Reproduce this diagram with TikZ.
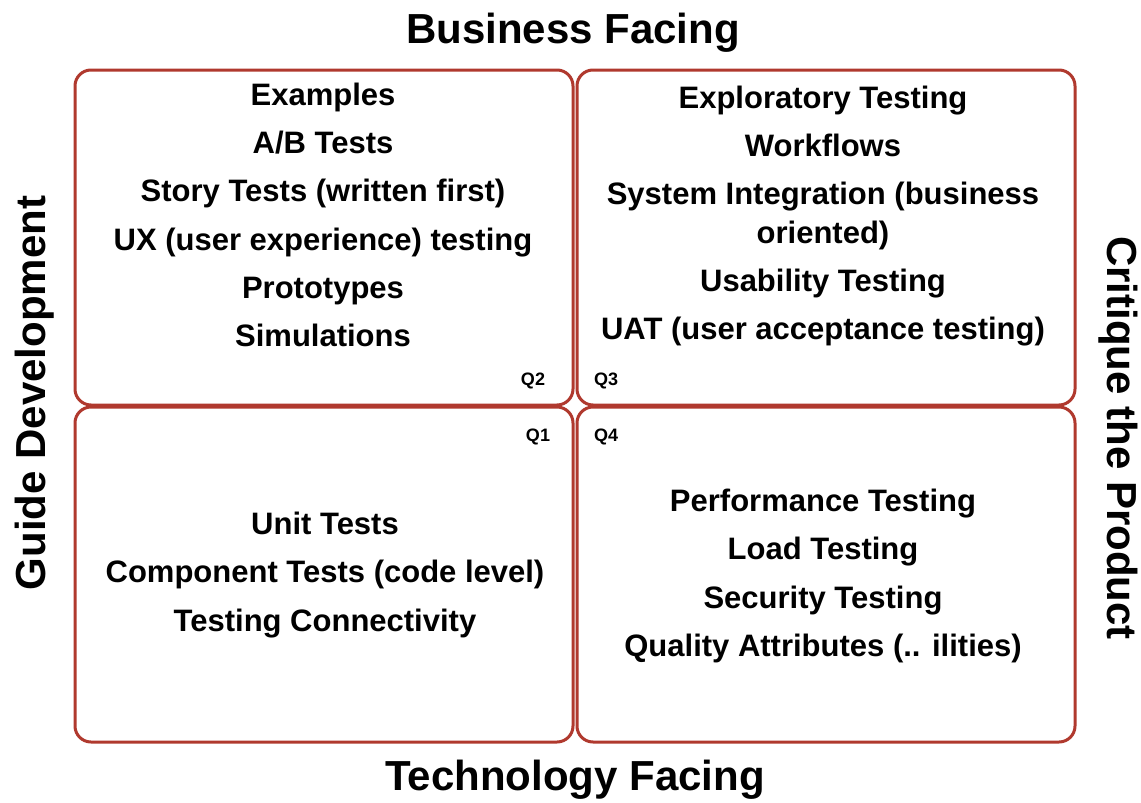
\documentclass[tikz,border=0pt]{standalone}
\usepackage{fontspec}
\setmainfont{Liberation Sans}
\definecolor{boxred}{HTML}{B0392E}
\begin{document}
\begin{tikzpicture}[x=1pt,y=-1pt,
  quad/.style={draw=boxred,line width=3pt,rounded corners=16pt},
  items/.style={align=center,font=\bfseries\fontsize{31}{48.2}\selectfont,inner sep=0pt},
  title/.style={font=\bfseries\fontsize{42}{50}\selectfont,inner sep=0pt},
  qlab/.style={font=\bfseries\fontsize{18}{20}\selectfont,inner sep=0pt}]
\useasboundingbox (0,0) rectangle (1141,803);
\fill[white] (0,0) rectangle (1141,803);
% quadrants
\draw[quad] (75,70) rectangle (573,405);
\draw[quad] (577,70) rectangle (1075,405);
\draw[quad] (75,407) rectangle (573,742);
\draw[quad] (577,407) rectangle (1075,742);
% titles
\node[title] (top) at (573,33) {Business Facing};
\node[title] (bottom) at (575,780) {Technology Facing};
\node[title,rotate=90] (left) at (35,393) {Guide Development};
\node[title,rotate=-90] (right) at (1118,438) {Critique the Product};
% quadrant labels
\node[qlab] (q2) at (533,381) {Q2};
\node[qlab] (q3) at (606,381) {Q3};
\node[qlab] (q1) at (538,437) {Q1};
\node[qlab] (q4) at (606,437) {Q4};
% contents
\node[items] (t2) at (323,215) {Examples\\A/B Tests\\Story Tests (written first)\\UX (user experience) testing\\Prototypes\\Simulations};
\node[items] (t3) at (823,216) {Exploratory Testing\\Workflows\\System Integration (business\\[-10pt]oriented)\\Usability Testing\\UAT (user acceptance testing)};
\node[items] (t1) at (325,575) {Unit Tests\\Component Tests (code level)\\Testing Connectivity};
\node[items] (t4) at (823,576) {Performance Testing\\Load Testing\\Security Testing\\Quality Attributes (.. ilities)};
\end{tikzpicture}
\end{document}
